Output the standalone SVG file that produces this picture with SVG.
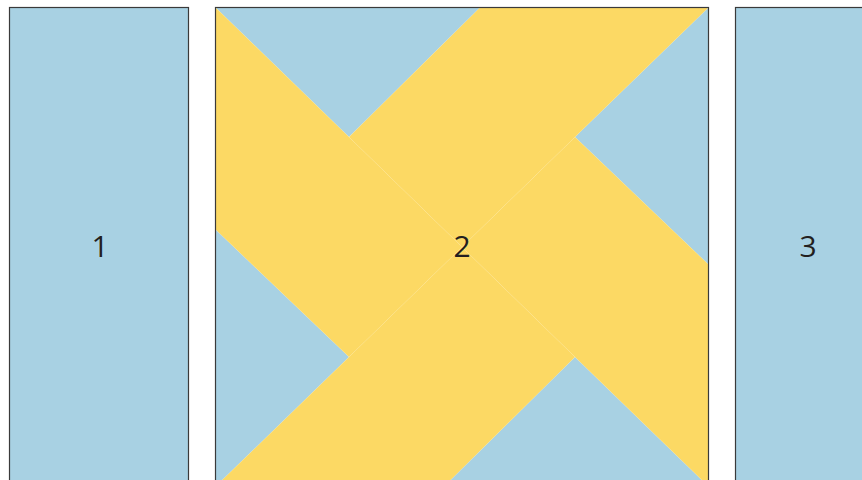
<svg xmlns="http://www.w3.org/2000/svg" width="862" height="480" viewBox="0 0 862 480">
  <style>
    .blue { fill: #a8d1e3; }
    .yellow { fill: #fcd964; }
    .frame { fill: none; stroke: #3a3a3a; stroke-width: 1.2; }
    .label { font-family: "Open Sans", "Noto Sans", "Liberation Sans", sans-serif; font-size: 30px; fill: #231f20; text-anchor: middle; }
  </style>
  <rect x="0" y="0" width="862" height="480" fill="#ffffff"/>
  <g id="panel-1">
    <rect class="blue" x="9.5" y="7.5" width="179" height="490"/>
    <rect class="frame" x="9.5" y="7.5" width="179" height="490"/>
    <text class="label" x="100" y="257">1</text>
  </g>
  <g id="panel-2">
    <polygon class="blue" points="215,7 480.5,7 349,137"/>
    <polygon class="blue" points="709,7 709,265 575,137"/>
    <polygon class="blue" points="709,487 443.5,487 575,357"/>
    <polygon class="blue" points="215,487 215,229 349,357"/>
    <polygon class="yellow" points="215,7 349,137 462,247 349,357 215,229"/>
    <polygon class="yellow" points="480.5,7 709,7 575,137 462,247 349,137"/>
    <polygon class="yellow" points="709,265 709,487 575,357 462,247 575,137"/>
    <polygon class="yellow" points="443.5,487 215,487 349,357 462,247 575,357"/>
    <rect class="frame" x="215.5" y="7.5" width="493" height="490"/>
    <text class="label" x="462" y="257">2</text>
  </g>
  <g id="panel-3">
    <rect class="blue" x="735.5" y="7.5" width="150" height="490"/>
    <rect class="frame" x="735.5" y="7.5" width="150" height="490"/>
    <text class="label" x="808" y="257">3</text>
  </g>
  <g id="connectors"/>
</svg>
